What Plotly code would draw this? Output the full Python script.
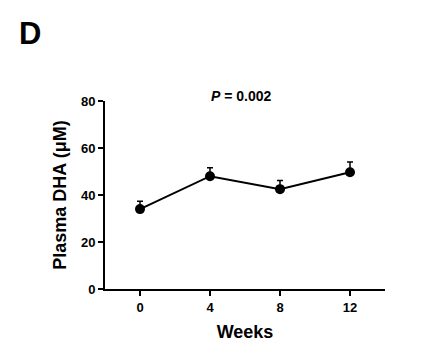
import plotly.graph_objects as go

weeks = [0, 4, 8, 12]
dha = [34, 48, 42.5, 49.7]
sem = [3.3, 3.6, 3.7, 4.3]
y_ticks = [0, 20, 40, 60, 80]
x_ticks = [0, 4, 8, 12]

FONT = "Liberation Sans, Arial, sans-serif"

# the page body adds an 8px offset; compensate in the margins
L, T = 105 - 8, 101 - 8
PW, PH = 280, 188
W, H = 422, 355
R, B = W - L - PW, H - T - PH

fig = go.Figure()
fig.add_trace(go.Scatter(
    x=weeks, y=dha, mode="lines+markers",
    line=dict(color="black", width=2),
    marker=dict(color="black", size=10),
    error_y=dict(type="data", array=sem, arrayminus=[0]*len(sem),
                 symmetric=False, color="black", thickness=1.5, width=3),
    showlegend=False,
))

fig.update_layout(
    width=W, height=H,
    margin=dict(l=L, r=R, t=T, b=B),
    paper_bgcolor="white", plot_bgcolor="white",
    font=dict(family=FONT, color="black"),
    xaxis=dict(range=[-2, 14], tickvals=x_ticks, ticktext=[str(v) for v in x_ticks],
               showline=True, linecolor="black", linewidth=2, showgrid=False, zeroline=False,
               ticks="outside", ticklen=5, tickwidth=2, tickcolor="black",
               tickfont=dict(size=13, family=FONT, weight="bold"),
               title=dict(text="<b>Weeks</b>", font=dict(size=18), standoff=12)),
    yaxis=dict(range=[0, 80], tickvals=y_ticks,
               showline=True, linecolor="black", linewidth=2, showgrid=False, zeroline=False,
               ticks="outside", ticklen=5, tickwidth=2, tickcolor="black",
               tickfont=dict(size=13, family=FONT, weight="bold"),
               title=dict(text="<b>Plasma DHA (μM)</b>", font=dict(size=18), standoff=10)),
    annotations=[
        dict(text="<b>D</b>", x=(17 - 8 - L) / PW, y=(H - (33 - 8) - B) / PH,
             xref="paper", yref="paper",
             showarrow=False, font=dict(size=31), xanchor="left", yanchor="middle"),
        dict(text="<b><i>P</i> = 0.002</b>", x=5.8, y=80, xref="x", yref="y",
             showarrow=False, font=dict(size=14), xanchor="center", yanchor="bottom", yshift=-5),
    ],
)

fig.write_html("out.html")
